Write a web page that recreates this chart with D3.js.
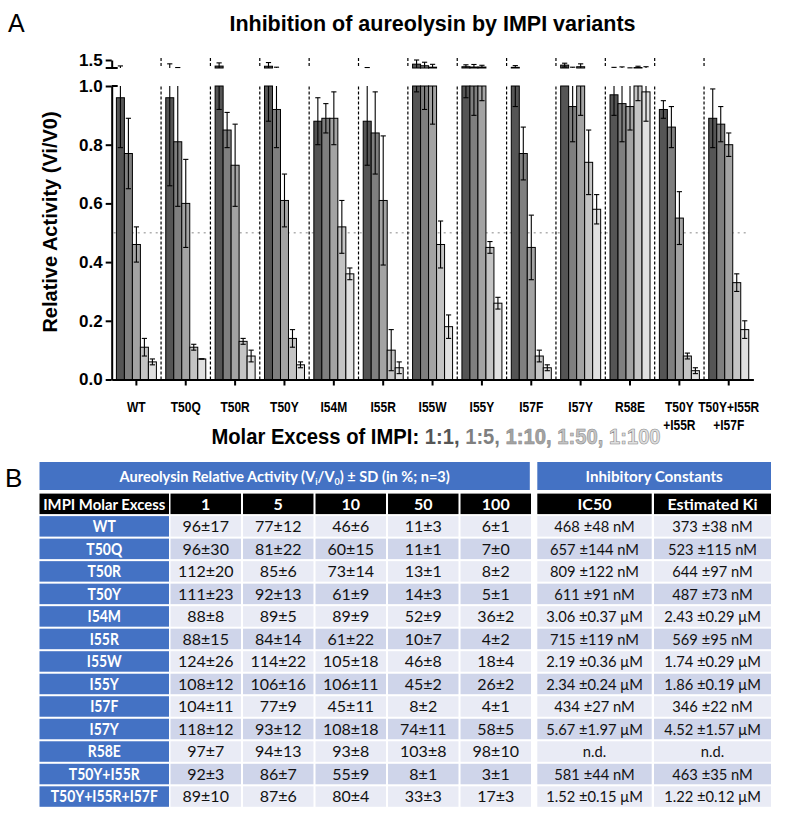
<!DOCTYPE html>
<html><head><meta charset="utf-8">
<script src="https://cdn.jsdelivr.net/npm/d3@7/dist/d3.min.js"></script>
<style>body{margin:0;background:#fff} svg{display:block}</style>
</head><body>
<svg id="c" width="787" height="821"></svg>
<script>
// ---------------- DATA ----------------
const categories = ["WT","T50Q","T50R","T50Y","I54M","I55R","I55W","I55Y","I57F","I57Y","R58E","T50Y+I55R","T50Y+I55R+I57F"];
const xLabelLines = [["WT"],["T50Q"],["T50R"],["T50Y"],["I54M"],["I55R"],["I55W"],["I55Y"],["I57F"],["I57Y"],["R58E"],["T50Y","+I55R"],["T50Y+I55R","+I57F"]];
const ratios = ["1:1","1:5","1:10","1:50","1:100"];
const excessHeaders = ["1","5","10","50","100"];
const mean1   = [96,96,112,111,88,88,124,108,104,118,97,92,89];
const sd1     = [17,30,20,23,8,15,26,12,11,12,7,3,10];
const mean5   = [77,81,85,92,89,84,114,106,77,93,94,86,87];
const sd5     = [12,22,6,13,5,14,22,16,9,12,13,7,6];
const mean10  = [46,60,73,61,89,61,105,106,45,108,93,55,80];
const sd10    = [6,15,14,9,9,22,18,11,11,18,8,9,4];
const mean50  = [11,11,13,14,52,10,46,45,8,74,103,8,33];
const sd50    = [3,1,1,3,9,7,8,2,2,11,8,1,3];
const mean100 = [6,7,8,5,36,4,18,26,4,58,98,3,17];
const sd100   = [1,0,2,1,2,2,4,2,1,5,10,1,3];
const ic50 = ["468 ±48 nM","657 ±144 nM","809 ±122 nM","611 ±91 nM","3.06 ±0.37 μM","715 ±119 nM","2.19 ±0.36 μM","2.34 ±0.24 μM","434 ±27 nM","5.67 ±1.97 μM","n.d.","581 ±44 nM","1.52 ±0.15 μM"];
const kiEst = ["373 ±38 nM","523 ±115 nM","644 ±97 nM","487 ±73 nM","2.43 ±0.29 μM","569 ±95 nM","1.74 ±0.29 μM","1.86 ±0.19 μM","346 ±22 nM","4.52 ±1.57 μM","n.d.","463 ±35 nM","1.22 ±0.12 μM"];
const yTicksLower = [0,0.2,0.4,0.6,0.8,1.0];
const yTicksUpper = [1.5];
const barColors = ["#555555","#7f7f7f","#a3a3a3","#c4c4c4","#e0e0e0"];

const means = [mean1,mean5,mean10,mean50,mean100];
const sds = [sd1,sd5,sd10,sd50,sd100];

// ---------------- CHART ----------------
const svg = d3.select("#c");
const AX = 111.7;
const x0 = d3.scaleBand().domain(categories).range([AX, 753.4]).paddingInner(0).paddingOuter(0);
const x1 = d3.scaleBand().domain(ratios).range([4.7, 44.7]).padding(0);
const yL = d3.scaleLinear().domain([0,1]).range([379.5, 86]);
const yU = d3.scaleLinear().domain([1,1.5]).range([68, 60]);

svg.append("text").attr("x",8).attr("y",32).attr("font-family","Liberation Sans, Arial, sans-serif")
  .attr("font-size",25).text("A");
svg.append("text").attr("x",432.5).attr("y",31).attr("text-anchor","middle")
  .attr("font-family","Liberation Sans, Arial, sans-serif").attr("font-weight","bold").attr("font-size",21.5)
  .text("Inhibition of aureolysin by IMPI variants");

svg.append("line").attr("x1",AX+2).attr("x2",749).attr("y1",yL(0.5)).attr("y2",yL(0.5))
  .attr("stroke","#b0b0b0").attr("stroke-width",1.5).attr("stroke-dasharray","2,4");

categories.slice(1).forEach(c=>{
  const xx = x0(c);
  svg.append("line").attr("x1",xx).attr("x2",xx).attr("y1",yL(0)).attr("y2",yL(1))
    .attr("stroke","#000").attr("stroke-width",1.2).attr("stroke-dasharray","3,2");
  svg.append("line").attr("x1",xx).attr("x2",xx).attr("y1",58).attr("y2",yU(1))
    .attr("stroke","#000").attr("stroke-width",1.2).attr("stroke-dasharray","3,2");
});

const bars = [];
categories.forEach((c,i)=>{
  ratios.forEach((r,j)=>{
    bars.push({c, r, j, v: means[j][i]/100, sd: sds[j][i]/100});
  });
});
const bx = d=> x0(d.c)+x1(d.r);
const bw = x1.bandwidth();

const gBars = svg.append("g");
gBars.selectAll("rect.lo").data(bars).join("rect").attr("class","lo")
  .attr("x",bx).attr("width",bw)
  .attr("y",d=>yL(Math.min(d.v,1))).attr("height",d=>yL(0)-yL(Math.min(d.v,1)))
  .attr("fill",d=>barColors[d.j]).attr("stroke","#000").attr("stroke-width",1);
gBars.selectAll("rect.up").data(bars.filter(d=>d.v>1)).join("rect").attr("class","up")
  .attr("x",bx).attr("width",bw)
  .attr("y",d=>yU(Math.min(d.v,1.5))).attr("height",d=>yU(1)-yU(Math.min(d.v,1.5)))
  .attr("fill",d=>barColors[d.j]).attr("stroke","#000").attr("stroke-width",1);

const gErr = svg.append("g").attr("stroke","#000").attr("stroke-width",1.1);
const capW = 2.6;
bars.forEach(d=>{
  const cx = bx(d)+bw/2;
  const lo = d.v-d.sd, hi = d.v+d.sd;
  if (lo < 1) {
    const a = Math.max(lo,0), b = Math.min(hi,1);
    gErr.append("line").attr("x1",cx).attr("x2",cx).attr("y1",yL(a)).attr("y2",yL(b));
    if (lo>=0) gErr.append("line").attr("x1",cx-capW).attr("x2",cx+capW).attr("y1",yL(lo)).attr("y2",yL(lo));
    if (hi<=1) gErr.append("line").attr("x1",cx-capW).attr("x2",cx+capW).attr("y1",yL(hi)).attr("y2",yL(hi));
  }
  if (hi > 1) {
    const a = Math.max(lo,1), b = Math.min(hi,1.5);
    gErr.append("line").attr("x1",cx).attr("x2",cx).attr("y1",yU(a)).attr("y2",yU(b));
    if (hi<=1.5) gErr.append("line").attr("x1",cx-capW).attr("x2",cx+capW).attr("y1",yU(hi)).attr("y2",yU(hi));
    if (lo>1) gErr.append("line").attr("x1",cx-capW).attr("x2",cx+capW).attr("y1",yU(lo)).attr("y2",yU(lo));
  }
});

const axFont = "Liberation Sans, Arial, sans-serif";
const gyL = svg.append("g").attr("transform",`translate(${AX},0)`)
  .call(d3.axisLeft(yL).tickValues(yTicksLower).tickFormat(d3.format(".1f")).tickSize(6).tickSizeOuter(0).tickPadding(3));
const gyU = svg.append("g").attr("transform",`translate(${AX},0)`)
  .call(d3.axisLeft(yU).tickValues(yTicksUpper).tickFormat(d3.format(".1f")).tickSize(6).tickSizeOuter(0).tickPadding(3));
[gyL,gyU].forEach(g=>{
  g.select(".domain").attr("stroke-width",2);
  g.selectAll(".tick line").attr("stroke-width",2);
  g.selectAll("text").attr("font-family",axFont).attr("font-weight","bold").attr("font-size",17).attr("fill","#000");
});
svg.append("line").attr("x1",AX-6).attr("x2",AX+6).attr("y1",yU(1)).attr("y2",yU(1)).attr("stroke","#000").attr("stroke-width",2);
svg.append("line").attr("x1",AX).attr("x2",AX+6).attr("y1",yL(1)).attr("y2",yL(1)).attr("stroke","#000").attr("stroke-width",2);

const gx = svg.append("g").attr("transform",`translate(0,${yL(0)})`)
  .call(d3.axisBottom(x0).tickSize(6).tickSizeOuter(0).tickFormat(""));
gx.select(".domain").attr("stroke-width",2);
gx.selectAll(".tick line").attr("stroke-width",2);
gx.selectAll(".tick").each(function(c,i){
  const t = d3.select(this).append("text").attr("fill","#000").attr("text-anchor","middle")
    .attr("transform","scale(0.8,1)")
    .attr("font-family",axFont)
    .attr("font-weight","bold").attr("font-size",15);
  xLabelLines[i].forEach((ln,k)=>{
    t.append("tspan").attr("x",0).attr("y",32.5+k*18).text(ln);
  });
});

svg.append("text").attr("transform","translate(57,222) rotate(-90)").attr("text-anchor","middle")
  .attr("font-family",axFont).attr("font-weight","bold").attr("font-size",20).text("Relative Activity (Vi/V0)");

const leg = svg.append("text").attr("transform","translate(436,444) scale(0.94,1)").attr("text-anchor","middle")
  .attr("font-family",axFont).attr("font-weight","bold").attr("font-size",21.5);
leg.append("tspan").attr("fill","#000").text("Molar Excess of IMPI: ");
ratios.forEach((r,j)=>{
  leg.append("tspan").attr("fill",barColors[j]).attr("stroke", j>=2 ? "#8a8a8a":"none").attr("stroke-width",0.6)
    .text(r + (j<ratios.length-1? ", ":""));
});

// ---------------- TABLE ----------------
const tFont = "Lato, 'Open Sans', sans-serif";
const blue = "#4472c4", light = "#e9ebf5", dark = "#cfd5ea";
svg.append("text").attr("x",5).attr("y",487).attr("font-family","Liberation Sans, Arial, sans-serif")
  .attr("font-size",26).text("B");

const labelX = 39.5, labelW = 129.5;
const colX = d3.scaleBand().domain(excessHeaders).range([170.5, 531]).paddingInner(0.028).paddingOuter(0);
const constCols = [{x:537.3,w:114.4},{x:654,w:117}];
const rowY = d3.scaleBand().domain(["hdr"].concat(categories)).range([493.6, 806.8]).paddingInner(0.09).paddingOuter(0);

svg.append("rect").attr("x",labelX).attr("y",462).attr("width",529.8-labelX).attr("height",28).attr("fill",blue);
svg.append("rect").attr("x",537.3).attr("y",462).attr("width",771-537.3).attr("height",28).attr("fill",blue);
const t1 = svg.append("text").attr("transform",`translate(${(labelX+529.8)/2},481.5) scale(0.91,1)`).attr("text-anchor","middle")
  .attr("font-family",tFont).attr("font-weight","bold").attr("font-size",16).attr("fill","#fff");
t1.append("tspan").text("Aureolysin Relative Activity (V");
t1.append("tspan").attr("font-size",10).attr("dy",3).text("i");
t1.append("tspan").attr("dy",-3).text("/V");
t1.append("tspan").attr("font-size",10).attr("dy",3).text("0");
t1.append("tspan").attr("dy",-3).text(") ± SD (in %; n=3)");
svg.append("text").attr("transform",`translate(${(537.3+771)/2},481.5) scale(0.95,1)`).attr("text-anchor","middle")
  .attr("font-family",tFont).attr("font-weight","bold").attr("font-size",16).attr("fill","#fff").text("Inhibitory Constants");

const rh = rowY.bandwidth();
function cell(x,w,y,fill,txt,bold,color,sx,fs){
  svg.append("rect").attr("x",x).attr("y",y).attr("width",w).attr("height",rh).attr("fill",fill);
  svg.append("text").attr("transform",`translate(${x+w/2},${y+rh/2+5.7}) scale(${sx},1)`).attr("text-anchor","middle")
    .attr("font-family",tFont).attr("font-weight",bold?"bold":"normal").attr("font-size",fs||16)
    .attr("fill",color).text(txt);
}
const hy = rowY("hdr");
cell(labelX,labelW,hy,"#000","IMPI Molar Excess",true,"#fff",0.93);
excessHeaders.forEach(h=>cell(colX(h),colX.bandwidth(),hy,"#000",h,true,"#fff",1));
cell(constCols[0].x,constCols[0].w,hy,"#000","IC50",true,"#fff",1);
cell(constCols[1].x,constCols[1].w,hy,"#000","Estimated Ki",true,"#fff",1);
categories.forEach((c,i)=>{
  const y = rowY(c);
  const fill = i%2===0 ? light : dark;
  cell(labelX,labelW,y,blue,c,true,"#fff",0.83,16.8);
  excessHeaders.forEach((h,j)=>cell(colX(h),colX.bandwidth(),y,fill,`${means[j][i]}±${sds[j][i]}`,false,"#111",1));
  cell(constCols[0].x,constCols[0].w,y,fill,ic50[i],false,"#111",0.92);
  cell(constCols[1].x,constCols[1].w,y,fill,kiEst[i],false,"#111",0.92);
});
</script>
</body></html>
